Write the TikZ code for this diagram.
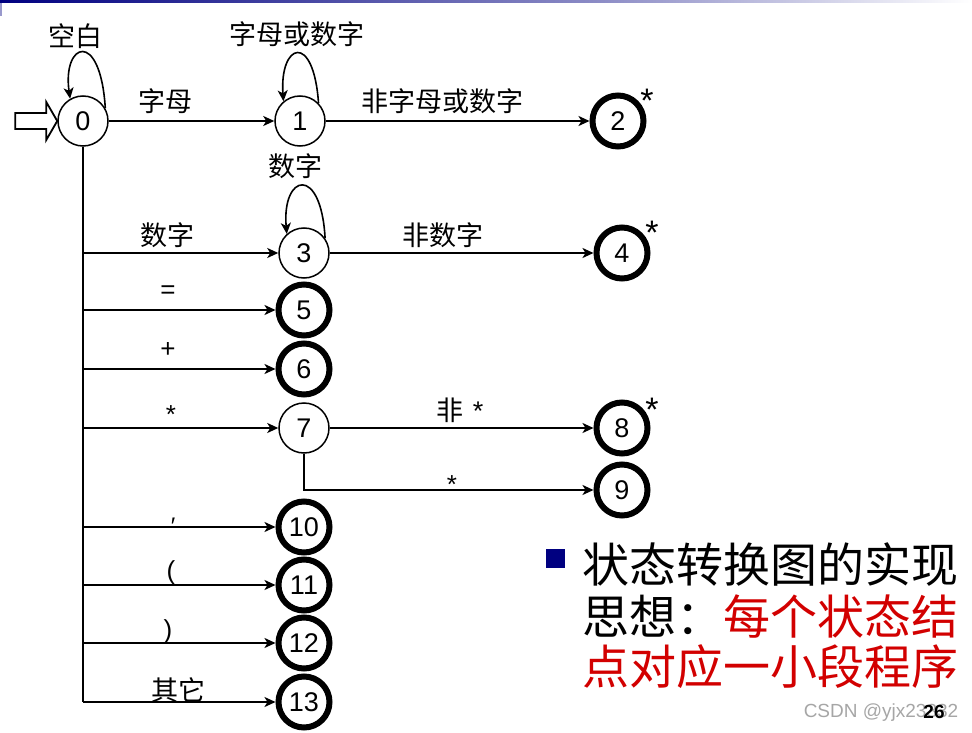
\documentclass[tikz,border=0pt]{standalone}
\usepackage{fontspec}
\setmainfont{Liberation Sans}
\newfontfamily\cjk{Noto Sans CJK SC}
\usetikzlibrary{arrows.meta}
\definecolor{navyblue}{RGB}{0,0,128}
\definecolor{slidered}{RGB}{210,0,0}
\begin{document}
\begin{tikzpicture}[x=1pt,y=-1pt,
  st/.style={circle,draw,line width=1.5pt,minimum size=50pt,inner sep=0pt,font=\fontsize{27}{30}\selectfont},
  fin/.style={circle,draw,line width=6pt,minimum size=51pt,inner sep=0pt,font=\fontsize{27}{30}\selectfont},
  lbl/.style={inner sep=0pt,font=\cjk\fontsize{27}{30}\selectfont},
  sym/.style={inner sep=0pt,font=\fontsize{26}{30}\selectfont},
  star/.style={inner sep=0pt,font=\fontsize{34}{36}\selectfont},
  tr/.style={line width=1.8pt,-{Stealth[length=11pt,width=10pt,inset=3pt]}},
  lp/.style={line width=1.6pt,-{Stealth[length=11pt,width=10pt,inset=3pt]}},
  ln/.style={line width=1.8pt},
  big/.style={anchor=west,inner sep=0pt,font=\cjk\fontsize{47}{50}\selectfont},
]
\useasboundingbox (0,0) rectangle (972,733);
% slide header band
\shade[left color=navyblue,right color=navyblue!45] (0,0) rectangle (600,3);
\shade[left color=navyblue!45,right color=white] (600,0) rectangle (972,3);
\draw[navyblue!40,line width=1.5pt] (1,3) -- (1,16);

% states
\node[st]  (n0)  at (83,121)  {0};
\node[st]  (n1)  at (300,121) {1};
\node[fin] (n2)  at (618,121) {2};
\node[st]  (n3)  at (304,253) {3};
\node[fin] (n4)  at (622,253) {4};
\node[fin] (n5)  at (304,310) {5};
\node[fin] (n6)  at (304,369) {6};
\node[st]  (n7)  at (304,428) {7};
\node[fin] (n8)  at (622,428) {8};
\node[fin] (n9)  at (622,490) {9};
\node[fin] (n10) at (304,527) {10};
\node[fin] (n11) at (304,585) {11};
\node[fin] (n12) at (304,643) {12};
\node[fin] (n13) at (304,702) {13};

% branch points on the trunk
\coordinate (b3)  at (83,253);
\coordinate (b5)  at (83,310);
\coordinate (b6)  at (83,369);
\coordinate (b7)  at (83,428);
\coordinate (b10) at (83,527);
\coordinate (b11) at (83,585);
\coordinate (b12) at (83,643);
\coordinate (b13) at (83,702);

% start arrow
\draw[line width=1.8pt,line join=miter] (n0.west) -- ++(-11,-19) -- ++(0,11) -- ++(-31,0) -- ++(0,16) -- ++(31,0) -- ++(0,11) -- cycle;

% transitions
\draw[tr] (n0) -- (n1);
\draw[tr] (n1) -- (n2);
\draw[tr] (n3) -- (n4);
\draw[tr] (n7) -- (n8);
\draw[tr] (n7) |- (n9);
\draw[ln] (n0.south) -- (b13);
\foreach \k in {3,5,6,7,10,11,12,13} \draw[tr] (b\k) -- (n\k);

% loops
\draw[lp] (n0.30) .. controls +(-5,-80) and +(-8,-56) .. (n0.120);
\draw[lp] (n1.44) .. controls +(-5,-72) and +(-4,-58) .. (n1.130);
\draw[lp] (n3.35) .. controls +(-4,-74) and +(-5,-60) .. (n3.132);

% labels
\node[lbl] (l00) at (75,36)   {空白};
\node[lbl] (l11) at (297,34)  {字母或数字};
\node[lbl] (l01) at (165,101) {字母};
\node[lbl] (l12) at (442,101) {非字母或数字};
\node[lbl] (l33) at (295,166) {数字};
\node[lbl] (l03) at (167,235) {数字};
\node[lbl] (l34) at (443,235) {非数字};
\node[sym] (l05) at (168,292) {=};
\node[sym] (l06) at (168,350) {+};
\node[sym] (l07) at (171,415) {*};
\node[lbl] (l78) at (460,410) {非\hspace{9pt}\fontspec{Liberation Sans}*};
\node[sym] (l79) at (452,485) {*};
\node[sym,font=\fontsize{24}{26}\selectfont] (l10) at (173,526) {′};
\node[sym] (l11b) at (171,573) {(};
\node[sym] (l12b) at (168,632) {)};
\node[lbl] (l13) at (178,690) {其它};

% stars on final states
\node[star] (s2) at (647,101) {*};
\node[star] (s4) at (652,233) {*};
\node[star] (s8) at (652,410) {*};

% bullet text
\node[fill=navyblue,minimum size=19pt,inner sep=0pt] (bul) at (555,558.5) {};
\node[big] (t1) at (582,565) {状态转换图的实现};
\node[big] (t2) at (582,617) {思想：\textcolor{slidered}{每个状态结}};
\node[big,text=slidered] (t3) at (582,667) {点对应一小段程序};

% footer
\node[inner sep=0pt,text=black!35,font=\fontsize{19}{20}\selectfont] (wm) at (881,713) {CSDN @yjx23332};
\node[inner sep=0pt,font=\bfseries\fontsize{19}{20}\selectfont] (pg) at (934,712) {26};
\end{tikzpicture}
\end{document}
